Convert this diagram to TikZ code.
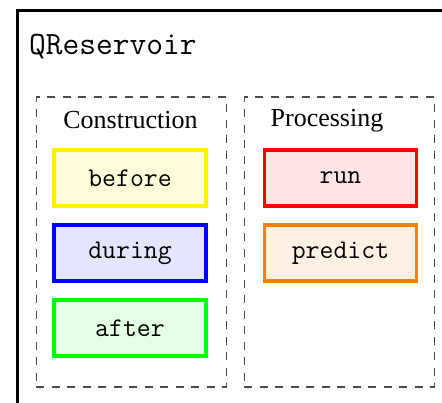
\documentclass[tikz,border=0pt]{standalone}
\usepackage{fontspec}
\setmainfont{Liberation Serif}
\setmonofont{Latin Modern Mono}
\begin{document}
\begin{tikzpicture}[x=1pt,y=-1pt,
  frame/.style={draw=black,line width=3pt},
  group/.style={draw=black!70,line width=1.2pt,dash pattern=on 8pt off 7.5pt,minimum width=190pt,minimum height=290pt,inner sep=0pt},
  grouptitle/.style={font=\fontsize{26}{28}\selectfont,anchor=base,inner sep=0pt},
  method/.style={line width=3.3pt,minimum width=152pt,minimum height=56pt,inner sep=0pt,font=\ttfamily\fontsize{27}{30}\selectfont},
]
\clip (0,0) rectangle (442,403);
\useasboundingbox (0,0) rectangle (442,403);
\fill[white] (0,0) rectangle (442,403);
\node[frame,anchor=north west,minimum width=460pt,minimum height=420pt,inner sep=0pt] (outer) at (16,9.5) {};
\node[anchor=base west,inner sep=0pt,font=\ttfamily\fontsize{32.5}{35}\selectfont] (title) at (29,55) {QReservoir};
\node[group,anchor=north west] (construction) at (35.5,96.5) {};
\node[group,anchor=north west] (processing) at (243.5,96.5) {};
\node[grouptitle] (ctitle) at (130.5,129) {Construction};
\node[grouptitle] (ptitle) at (327,127) {Processing};
\node[method,draw=yellow,fill=yellow!15] (before) at (130,178) {before};
\node[method,draw=blue,fill=blue!10] (during) at (130,253) {during};
\node[method,draw=green,fill=green!10] (after) at (130,328) {after};
\node[method,draw=red,fill=red!10] (run) at (340.5,178) {run};
\node[method,draw=orange,fill=orange!10] (predict) at (340.5,253) {predict};
\end{tikzpicture}
\end{document}
